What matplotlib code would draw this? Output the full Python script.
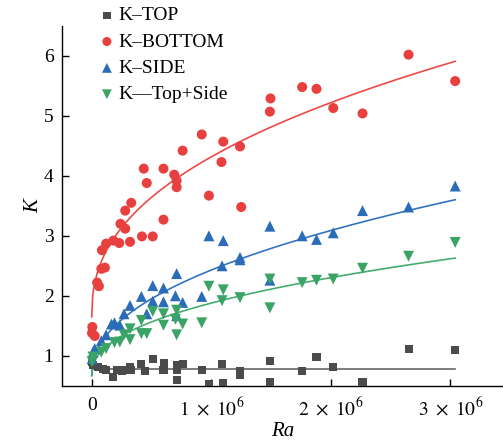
import numpy as np
import matplotlib
matplotlib.use("Agg")
import matplotlib.pyplot as plt
from matplotlib.ticker import FixedLocator

plt.rcParams['font.family'] = ['Liberation Serif', 'DejaVu Serif']
plt.rcParams['mathtext.fontset'] = 'stix'

#--------------------- DATA (Ra in units of 1e6) -------------------#
top_ra = [0.003, 0.01, 0.05, 0.095, 0.12, 0.18, 0.21, 0.25, 0.28, 0.32, 0.33,
          0.415, 0.445, 0.51, 0.6, 0.605, 0.71, 0.71, 0.71, 0.76, 0.92, 0.98,
          1.09, 1.10, 1.24, 1.24, 1.49, 1.49, 1.76, 1.88, 2.02, 2.265, 2.65, 3.04]
top_k = [0.90, 0.84, 0.81, 0.78, 0.76, 0.64, 0.76, 0.74, 0.77, 0.81, 0.76,
         0.87, 0.74, 0.95, 0.77, 0.88, 0.84, 0.76, 0.59, 0.87, 0.77, 0.53,
         0.86, 0.55, 0.74, 0.68, 0.92, 0.56, 0.74, 0.98, 0.81, 0.57, 1.11, 1.09]

bottom_ra = [0.005, 0.002, 0.025, 0.045, 0.06, 0.08, 0.11, 0.085, 0.12, 0.18,
             0.23, 0.24, 0.28, 0.32, 0.33, 0.28, 0.42, 0.51, 0.46, 0.60, 0.71,
             0.71, 0.98, 1.25, 0.435, 0.60, 0.69, 0.76, 0.92, 1.10, 1.085, 1.24,
             1.495, 1.49, 1.76, 1.88, 2.02, 2.265, 2.65, 3.04]
bottom_k = [1.48, 1.38, 1.33, 2.22, 2.16, 2.45, 2.47, 2.76, 2.87, 2.92,
            2.88, 3.20, 3.12, 2.90, 3.55, 3.42, 2.99, 2.99, 3.88, 3.27, 3.92,
            3.81, 3.67, 3.48, 4.12, 4.12, 4.02, 4.42, 4.69, 4.57, 4.23, 4.49,
            5.29, 5.07, 5.48, 5.45, 5.13, 5.04, 6.02, 5.58]

side_ra = [0.003, 0.01, 0.025, 0.08, 0.12, 0.165, 0.19, 0.235, 0.27, 0.32,
           0.415, 0.46, 0.51, 0.51, 0.60, 0.60, 0.70, 0.71, 0.71, 0.76, 0.92,
           0.98, 1.09, 1.10, 1.24, 1.24, 1.49, 1.49, 1.76, 1.88, 2.02, 2.265,
           2.65, 3.04]
side_k = [0.95, 1.06, 1.12, 1.25, 1.35, 1.53, 1.55, 1.51, 1.70, 1.84,
          1.99, 1.70, 2.17, 1.91, 2.13, 1.90, 2.00, 2.37, 1.67, 1.89, 1.99,
          3.00, 2.50, 2.92, 2.64, 2.60, 3.16, 2.26, 3.00, 2.94, 3.05, 3.42,
          3.48, 3.83]

ts_ra = [0.003, 0.01, 0.08, 0.12, 0.19, 0.235, 0.27, 0.32, 0.32, 0.415,
         0.415, 0.46, 0.51, 0.60, 0.60, 0.70, 0.71, 0.71, 0.76, 0.92, 0.98,
         1.09, 1.10, 1.24, 1.49, 1.49, 1.76, 1.88, 2.02, 2.265, 2.65, 3.04]
ts_k = [0.90, 0.98, 1.06, 1.12, 1.22, 1.23, 1.35, 1.45, 1.27, 1.59,
        1.37, 1.37, 1.74, 1.70, 1.51, 1.61, 1.76, 1.35, 1.53, 1.55, 2.16,
        1.92, 2.10, 1.97, 2.28, 1.80, 2.22, 2.26, 2.28, 2.46, 2.66, 2.89]

# fitted curves K = c + a * Ra^b  (Ra in 1e6), coefficients
fit_c = [0.78, 1.65, 0.67, 0.67]
fit_a = [0.0, 2.667, 1.76, 1.209]
fit_b = [1.0, 0.421, 0.459, 0.434]

labels = ["K\u2013TOP", "K\u2013BOTTOM", "K\u2013SIDE", "K\u2014Top+Side"]
colors = ["#4b4b4b", "#e8403f", "#2b6cb8", "#3aa466"]
line_colors = ["#666666", "#ec4a48", "#3573c0", "#45ad6f"]
markers = ["s", "o", "^", "v"]
sizes = [34, 52, 62, 62]

fit_end = 3.04

#--------------------- PLOT -------------------#
fig = plt.figure(figsize=(5.03, 4.46), dpi=100)
ax = fig.add_axes([0.123, 0.135, 0.877, 0.807])

series = [(top_ra, top_k), (bottom_ra, bottom_k), (side_ra, side_k), (ts_ra, ts_k)]
for i, ((ra, k), lab, c, lc, m, s) in enumerate(zip(series, labels, colors, line_colors, markers, sizes)):
    ra = np.array(ra)
    k = np.array(k)
    ax.scatter(ra * 1e6, k, s=s, marker=m, color=c, edgecolors='none', label=lab, zorder=3)
    xf = np.linspace(0, fit_end, 400)
    ax.plot(xf * 1e6, fit_c[i] + fit_a[i] * xf ** fit_b[i], color=lc, lw=1.2, zorder=2)

ax.set_xlim(-0.25e6, 3.44e6)
ax.set_ylim(0.5, 6.5)
ax.xaxis.set_major_locator(FixedLocator([0, 1e6, 2e6, 3e6]))
ax.set_xticklabels(["0", r"$1\ \times\ 10^{6}$", r"$2\ \times\ 10^{6}$", r"$3\ \times\ 10^{6}$"])
ax.set_yticks([1, 2, 3, 4, 5, 6])
ax.tick_params(direction='in', length=5, width=1, labelsize=14, pad=8)
ax.tick_params(axis='y', pad=6)
for sp in ['top', 'right']:
    ax.spines[sp].set_visible(False)
for sp in ['left', 'bottom']:
    ax.spines[sp].set_linewidth(1.0)

ax.set_xlabel("Ra", fontsize=15, style='italic', labelpad=2)
ax.set_ylabel("K", fontsize=15, style='italic', labelpad=0)

leg = ax.legend(loc='upper left', bbox_to_anchor=(0.058, 1.075), frameon=False,
                fontsize=14, handletextpad=0.0, labelspacing=0.45,
                borderaxespad=0, handlelength=1.2, markerscale=0.9)

fig.savefig("out.png", dpi=100)
